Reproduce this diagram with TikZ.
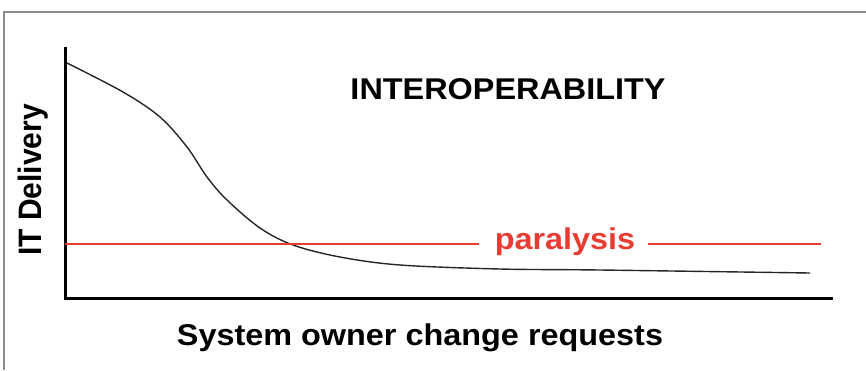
\documentclass[tikz,border=0pt]{standalone}
\usepackage{fontspec}
\setmainfont{Liberation Sans}
\definecolor{parared}{RGB}{232,60,50}
\begin{document}
\begin{tikzpicture}[x=1pt,y=-1pt,
  lbl/.style={font=\bfseries\fontsize{30}{36}\selectfont, inner sep=0pt, xscale=1.08},
  axis/.style={line width=3pt, black},
  curve/.style={line width=1.4pt, black!85},
  frame/.style={line width=1.5pt, black!45}]
\useasboundingbox (0,0) rectangle (866,370);
% outer frame (top and left edges)
\draw[frame] (4,370) -- (4,12) -- (866,12);
% axes
\coordinate (ytop) at (65,47);
\coordinate (orig) at (65,298);
\coordinate (xend) at (833,298);
\draw[axis] (ytop) -- (orig) -- (xend);
% delivery curve
\draw[curve] plot[smooth, tension=0.55] coordinates {
  (67,63) (123,92) (160,117) (187,147) (207,177) (227,200) (260,228)
  (293,245) (340,257) (400,265) (500,269) (600,270) (810,273)};
% labels
\node[lbl] (title) at (508,89) {INTEROPERABILITY};
\node[lbl, rotate=90] (ylab) at (33,180) {IT Delivery};
\node[lbl] (xlab) at (420,338) {System owner change requests};
\node[lbl, text=parared] (para) at (565,242) {paralysis};
% paralysis threshold line
\coordinate (pl) at (65,244);
\coordinate (pr) at (821,244);
\coordinate (gl) at (479,244);
\coordinate (gr) at (648,244);
\draw[parared, line width=1.2pt] (pl) -- (gl);
\draw[parared, line width=1.2pt] (gr) -- (pr);
\end{tikzpicture}
\end{document}
